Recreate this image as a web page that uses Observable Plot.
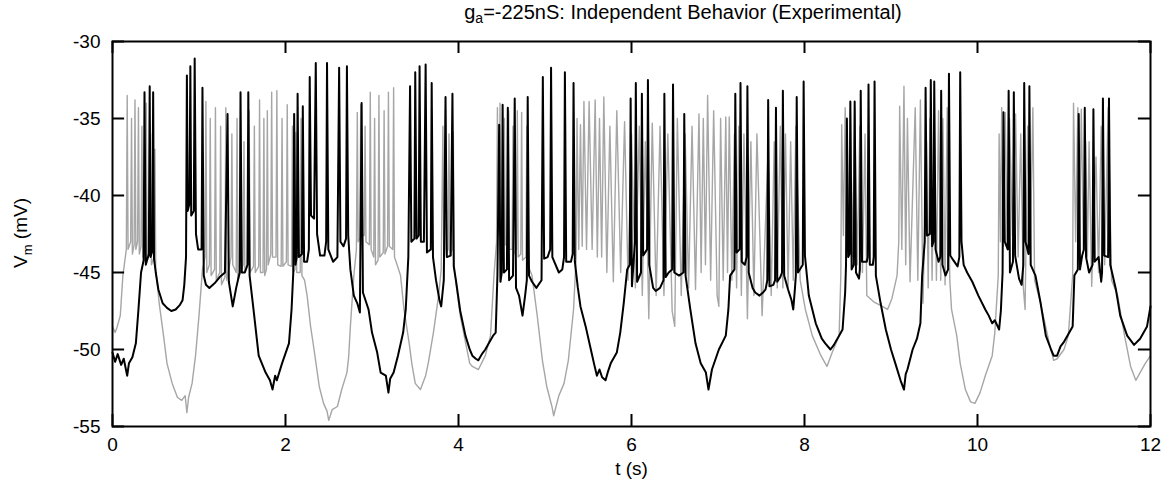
<!DOCTYPE html>
<html><head><meta charset="utf-8">
<script src="https://cdn.jsdelivr.net/npm/d3@7"></script>
<script src="https://cdn.jsdelivr.net/npm/@observablehq/plot@0.6"></script>
<style>
body{margin:0;background:#fff;font-family:"Liberation Sans",Arial,Helvetica,sans-serif;}
#wrap{width:1165px;}
#title{height:30px;margin-left:380px;width:606px;text-align:center;font-size:20px;line-height:25px;color:#000;white-space:nowrap;}
#title sub{font-size:14px;vertical-align:-4px;line-height:0;}
</style></head>
<body><div id="wrap"><div id="title">g<sub>a</sub>=-225nS: Independent Behavior (Experimental)</div><div id="chart"></div></div>
<script>
const xTicks = [0, 2, 4, 6, 8, 10, 12];
const yTicks = [-55, -50, -45, -40, -35, -30];

// cell 1 (black trace): [t (s), Vm (mV)]
const cellBlack = [
[0.00,-50.2],[0.03,-50.8],[0.06,-50.3],[0.10,-51.0],[0.13,-50.6],[0.17,-51.7],[0.19,-50.9],[0.23,-50.5],[0.27,-49.6],[0.30,-47.4],[0.33,-45.0],[0.36,-44.2],
[0.37,-33.3],[0.385,-44.5],[0.42,-43.8],[0.43,-32.9],[0.44,-44.0],[0.46,-43.6],[0.47,-33.3],[0.48,-44.1],[0.50,-45.0],[0.53,-46.1],[0.58,-47.0],[0.63,-47.3],[0.68,-47.5],[0.73,-47.4],[0.78,-47.1],[0.81,-46.8],[0.83,-45.8],[0.85,-44.0],
[0.86,-32.2],[0.87,-41.0],[0.89,-40.5],[0.90,-31.6],[0.91,-41.3],[0.94,-41.0],[0.95,-31.1],[0.965,-42.5],[0.99,-43.5],[1.03,-43.5],[1.04,-33.0],[1.055,-45.2],[1.08,-45.8],[1.12,-46.0],[1.18,-45.7],[1.24,-45.3],[1.30,-45.0],
[1.33,-34.7],[1.345,-45.6],[1.39,-47.2],[1.43,-46.0],[1.47,-45.0],[1.48,-33.3],[1.495,-45.0],[1.53,-45.0],[1.56,-44.5],[1.57,-33.3],[1.585,-45.2],[1.63,-47.4],[1.69,-50.4],[1.77,-51.5],[1.82,-52.0],[1.85,-52.6],[1.88,-51.7],[1.90,-52.0],[1.96,-50.9],[2.04,-49.6],[2.07,-47.4],[2.09,-45.0],
[2.10,-34.7],[2.115,-44.5],[2.13,-44.0],[2.14,-33.4],[2.155,-44.0],[2.19,-43.8],[2.20,-34.2],[2.215,-44.3],[2.25,-44.3],[2.27,-43.5],[2.28,-32.3],[2.295,-41.3],[2.33,-41.5],[2.35,-31.4],[2.365,-42.5],[2.40,-43.9],[2.45,-43.9],[2.47,-43.0],[2.48,-31.4],[2.495,-43.5],[2.55,-44.3],[2.60,-44.0],[2.62,-31.7],[2.635,-43.0],[2.67,-43.3],[2.70,-42.8],[2.71,-31.6],
[2.725,-42.6],[2.75,-44.8],[2.79,-46.5],[2.83,-47.0],[2.86,-47.6],[2.88,-34.0],[2.895,-46.3],[2.96,-47.4],[3.00,-48.9],[3.06,-50.2],[3.10,-51.5],[3.16,-51.7],[3.19,-52.8],[3.21,-51.9],[3.25,-51.5],[3.30,-50.4],[3.36,-48.9],[3.39,-47.4],[3.42,-44.0],
[3.44,-32.9],[3.455,-43.0],[3.49,-42.8],[3.50,-32.0],[3.515,-42.8],[3.54,-42.6],[3.55,-31.6],[3.565,-43.0],[3.60,-43.0],[3.62,-31.5],[3.635,-43.7],[3.68,-43.5],[3.69,-32.7],[3.705,-44.0],[3.74,-45.5],[3.78,-46.8],[3.80,-47.2],[3.83,-45.5],[3.85,-33.6],[3.865,-44.0],[3.91,-43.9],[3.93,-33.4],[3.945,-44.6],[3.97,-45.5],[4.02,-47.5],[4.08,-49.1],[4.13,-50.0],[4.16,-50.4],[4.20,-50.6],[4.23,-50.7],[4.27,-50.3],[4.31,-50.0],[4.36,-49.5],[4.40,-49.1],[4.43,-48.9],[4.45,-45.2],
[4.47,-35.4],[4.485,-45.6],[4.50,-45.0],[4.51,-34.1],[4.525,-45.0],[4.56,-44.8],[4.57,-34.3],[4.585,-45.5],[4.63,-45.2],[4.65,-33.7],[4.665,-46.0],[4.70,-46.5],[4.74,-47.8],[4.77,-46.5],[4.79,-45.5],[4.80,-33.6],[4.815,-45.2],[4.85,-45.6],[4.90,-46.0],[4.96,-45.5],[4.975,-32.3],[4.99,-44.1],[5.03,-44.0],[5.06,-43.5],[5.07,-31.7],[5.085,-44.0],[5.16,-45.0],[5.20,-44.8],[5.22,-44.0],[5.23,-32.0],[5.245,-44.3],[5.30,-44.3],[5.32,-43.8],[5.33,-32.7],[5.345,-44.3],[5.38,-46.0],[5.41,-47.2],[5.47,-48.5],[5.53,-50.0],[5.57,-51.0],[5.60,-51.7],[5.63,-51.3],[5.66,-51.8],[5.70,-52.0],[5.73,-51.4],[5.76,-50.9],[5.83,-50.2],[5.87,-48.9],[5.91,-47.0],[5.95,-44.8],[5.98,-44.5],
[5.99,-33.7],[6.005,-45.9],[6.04,-43.0],[6.05,-32.7],[6.065,-45.6],[6.11,-45.0],[6.12,-33.4],[6.135,-43.9],[6.18,-43.5],[6.19,-32.5],[6.205,-44.5],[6.25,-46.0],[6.28,-46.2],[6.33,-46.0],[6.37,-45.5],[6.38,-33.4],[6.395,-45.3],[6.43,-45.0],[6.47,-44.8],[6.48,-32.8],[6.495,-45.0],[6.55,-45.2],[6.60,-45.0],[6.61,-34.7],[6.625,-45.2],[6.68,-47.4],[6.74,-49.6],[6.80,-50.9],[6.86,-51.5],[6.89,-52.6],[6.93,-51.3],[7.01,-50.0],[7.09,-49.1],[7.12,-47.4],[7.14,-45.2],[7.19,-44.8],
[7.20,-33.4],[7.215,-43.7],[7.25,-43.5],[7.26,-32.7],[7.275,-44.3],[7.31,-44.5],[7.33,-44.0],[7.34,-32.9],[7.355,-45.0],[7.40,-46.0],[7.43,-46.3],[7.48,-46.5],[7.52,-46.3],[7.55,-46.1],[7.57,-45.5],[7.58,-33.8],[7.595,-45.9],[7.64,-45.8],[7.66,-45.5],[7.67,-34.3],[7.685,-45.6],[7.72,-45.3],[7.74,-45.0],[7.75,-33.2],[7.765,-45.2],[7.81,-46.1],[7.85,-46.8],[7.87,-47.4],[7.89,-46.0],[7.90,-45.2],[7.91,-33.6],[7.925,-45.0],[7.98,-44.5],[7.99,-32.6],[8.005,-43.9],[8.05,-46.5],[8.13,-48.3],[8.20,-49.3],[8.24,-49.6],[8.30,-50.0],[8.34,-49.7],[8.40,-49.1],[8.44,-48.7],[8.47,-46.3],[8.48,-44.5],
[8.49,-35.0],[8.505,-44.0],[8.52,-43.8],[8.53,-33.9],[8.545,-44.8],[8.57,-44.5],[8.58,-33.9],[8.595,-45.0],[8.63,-45.4],[8.64,-44.8],[8.65,-33.2],[8.665,-44.3],[8.72,-44.3],[8.73,-44.0],[8.74,-32.8],[8.755,-44.5],[8.79,-44.5],[8.80,-44.0],[8.81,-32.6],[8.825,-45.2],[8.88,-47.0],[8.94,-48.7],[9.00,-50.0],[9.05,-50.9],[9.11,-52.0],[9.15,-52.6],[9.17,-51.6],[9.19,-51.3],[9.25,-50.0],[9.30,-49.3],[9.34,-48.3],[9.36,-45.2],[9.39,-43.0],
[9.40,-33.0],[9.415,-42.6],[9.45,-42.5],[9.46,-32.5],[9.475,-43.3],[9.49,-43.0],[9.50,-32.6],[9.515,-43.5],[9.55,-44.3],[9.57,-44.0],[9.58,-33.2],[9.595,-44.5],[9.63,-45.2],[9.66,-44.8],[9.67,-32.1],[9.685,-43.9],[9.72,-44.2],[9.77,-44.6],[9.79,-44.0],[9.80,-32.0],[9.815,-43.0],[9.84,-44.5],[9.88,-45.0],[9.94,-45.6],[10.01,-46.5],[10.09,-47.4],[10.13,-47.8],[10.17,-48.3],[10.20,-48.1],[10.25,-48.7],[10.27,-47.5],[10.29,-45.0],
[10.30,-34.6],[10.315,-43.0],[10.35,-43.5],[10.36,-33.2],[10.375,-45.0],[10.41,-44.3],[10.42,-33.3],[10.435,-43.9],[10.48,-45.4],[10.51,-45.8],[10.53,-44.5],[10.54,-32.7],[10.555,-43.0],[10.59,-43.8],[10.60,-32.9],[10.615,-44.5],[10.67,-45.2],[10.73,-47.0],[10.79,-49.1],[10.85,-50.0],[10.88,-50.4],[10.92,-50.4],[10.96,-49.8],[11.00,-49.5],[11.04,-49.1],[11.10,-48.5],[11.12,-45.2],[11.16,-44.8],
[11.17,-34.7],[11.185,-44.8],[11.21,-43.9],[11.23,-43.5],[11.24,-34.3],[11.255,-44.0],[11.29,-45.0],[11.33,-44.5],[11.34,-34.4],[11.355,-44.3],[11.40,-44.0],[11.43,-45.6],[11.44,-45.0],[11.45,-33.7],[11.465,-43.9],[11.51,-44.0],[11.52,-33.7],[11.535,-44.5],[11.60,-46.1],[11.65,-47.8],[11.73,-49.1],[11.81,-49.7],[11.88,-49.3],[11.96,-48.5],[12.00,-47.2]
];

// cell 2 (gray trace): [t (s), Vm (mV)]
const cellGray = [
[0.00,-48.5],[0.03,-48.9],[0.05,-48.6],[0.09,-47.8],[0.12,-45.2],[0.16,-43.5],
[0.17,-33.5],[0.18,-43.5],[0.21,-43.0],[0.22,-35.0],[0.23,-43.8],[0.25,-43.2],[0.26,-33.8],[0.27,-43.5],[0.29,-43.0],[0.30,-34.3],[0.31,-43.8],[0.33,-43.3],[0.34,-35.5],[0.35,-44.0],[0.38,-43.5],[0.39,-34.0],[0.40,-44.2],[0.43,-43.8],[0.44,-36.0],[0.45,-44.5],[0.48,-44.0],[0.49,-37.0],[0.50,-44.8],[0.54,-47.0],[0.59,-49.1],[0.63,-50.9],[0.69,-52.2],[0.75,-53.1],[0.80,-53.3],[0.84,-53.0],[0.86,-54.1],[0.88,-53.1],[0.92,-52.2],[0.96,-50.4],[1.00,-47.8],[1.04,-44.8],[1.07,-44.0],
[1.08,-33.9],[1.09,-45.0],[1.12,-44.5],[1.13,-35.0],[1.14,-45.2],[1.18,-44.8],[1.19,-34.3],[1.20,-45.5],[1.24,-45.0],[1.25,-35.5],[1.26,-45.8],[1.30,-45.3],[1.31,-34.3],[1.32,-45.5],[1.37,-44.0],[1.38,-36.0],[1.39,-44.5],[1.43,-45.0],[1.44,-35.0],[1.45,-45.5],[1.51,-44.5],[1.52,-36.5],[1.53,-45.0],[1.57,-44.5],[1.58,-34.5],[1.59,-45.0],[1.63,-44.6],[1.64,-35.5],[1.65,-45.0],[1.69,-44.6],[1.70,-33.8],[1.71,-45.0],[1.74,-45.0],[1.75,-35.0],[1.76,-45.2],[1.78,-44.8],[1.79,-34.5],[1.80,-44.5],[1.83,-43.8],[1.84,-33.3],[1.85,-44.0],[1.89,-44.0],[1.90,-33.2],[1.91,-44.5],[1.95,-44.6],[1.96,-35.0],[1.97,-44.6],[2.01,-44.3],[2.02,-34.1],[2.03,-44.5],[2.07,-44.6],[2.08,-35.5],[2.09,-45.0],[2.11,-44.8],[2.12,-35.9],[2.13,-45.0],[2.17,-45.0],[2.18,-35.0],[2.19,-45.2],
[2.22,-45.5],[2.25,-46.5],[2.29,-48.5],[2.33,-50.0],[2.39,-52.4],[2.44,-53.5],[2.48,-54.0],[2.50,-54.6],[2.54,-53.9],[2.60,-53.7],[2.65,-52.6],[2.71,-51.5],[2.73,-50.5],[2.75,-48.5],[2.79,-45.2],[2.82,-43.5],
[2.83,-34.6],[2.84,-43.0],[2.86,-42.8],[2.87,-34.1],[2.88,-42.6],[2.91,-42.6],[2.92,-35.5],[2.93,-43.0],[2.97,-43.2],[2.98,-33.3],[2.99,-43.5],[3.02,-44.0],[3.03,-35.0],[3.04,-44.5],[3.07,-44.2],[3.08,-33.5],[3.09,-44.0],[3.13,-43.7],[3.14,-34.5],[3.15,-43.8],[3.18,-43.3],[3.19,-33.3],[3.20,-43.3],[3.24,-43.5],[3.25,-33.0],[3.26,-44.0],
[3.29,-44.5],[3.33,-45.2],[3.37,-47.4],[3.43,-49.6],[3.46,-50.9],[3.50,-52.2],[3.56,-52.6],[3.62,-51.7],[3.65,-50.9],[3.71,-48.9],[3.77,-46.5],[3.80,-44.8],
[3.82,-35.5],[3.83,-43.8],[3.84,-43.5],[3.85,-34.5],[3.86,-43.8],[3.88,-43.5],[3.89,-36.0],[3.90,-43.8],[3.93,-43.5],[3.94,-35.9],[3.95,-44.5],
[3.96,-45.2],[4.02,-47.8],[4.08,-49.5],[4.13,-50.9],[4.16,-51.1],[4.23,-51.3],[4.31,-50.4],[4.37,-49.1],[4.41,-45.2],[4.44,-43.0],
[4.45,-34.3],[4.46,-42.5],[4.47,-42.3],[4.48,-34.0],[4.49,-42.8],[4.52,-42.8],[4.53,-35.0],[4.54,-43.2],[4.57,-43.2],[4.58,-34.5],[4.59,-43.5],[4.62,-43.5],[4.63,-35.5],[4.64,-43.8],[4.67,-43.5],[4.68,-34.5],[4.69,-44.0],[4.72,-43.8],[4.73,-34.6],[4.74,-44.2],[4.78,-44.0],[4.79,-35.5],[4.80,-44.5],
[4.85,-45.2],[4.91,-47.8],[4.97,-50.7],[5.02,-52.4],[5.08,-53.7],[5.10,-54.3],[5.16,-53.0],[5.22,-52.2],[5.27,-50.7],[5.33,-47.4],[5.36,-44.0],
[5.37,-35.0],[5.39,-43.5],[5.41,-35.4],[5.43,-43.3],[5.45,-33.9],[5.48,-43.5],[5.51,-33.9],[5.545,-43.5],[5.58,-33.8],[5.605,-44.0],[5.63,-35.0],[5.655,-44.0],[5.68,-33.6],[5.715,-45.0],[5.75,-35.5],[5.79,-45.6],[5.83,-34.5],[5.875,-45.0],[5.92,-35.2],[5.96,-45.5],[6.00,-36.0],[6.045,-46.0],[6.09,-35.5],[6.125,-46.5],[6.16,-36.5],[6.20,-48.0],[6.24,-35.3],[6.285,-46.5],[6.33,-35.5],[6.375,-46.5],[6.42,-36.0],[6.47,-47.5],[6.50,-48.5],[6.53,-35.0],[6.575,-46.5],[6.62,-36.0],[6.66,-46.0],[6.70,-35.5],[6.74,-46.1],[6.78,-34.7],[6.805,-45.0],[6.83,-35.0],[6.855,-44.5],[6.88,-33.5],[6.915,-45.5],[6.95,-34.5],[6.99,-46.5],[7.01,-47.2],[7.03,-35.0],[7.06,-45.5],[7.09,-34.9],[7.11,-45.0],[7.13,-34.9],[7.16,-45.5],[7.19,-36.0],[7.215,-46.0],[7.24,-35.5],[7.27,-46.5],[7.30,-36.0],[7.34,-48.0],[7.38,-36.5],[7.415,-46.5],[7.45,-36.0],[7.51,-47.8],[7.58,-37.0],[7.615,-46.5],[7.65,-36.5],[7.685,-46.0],[7.72,-35.5],[7.75,-46.0],[7.78,-36.0],[7.81,-46.0],[7.84,-36.5],[7.87,-45.5],[7.90,-35.5],
[7.95,-45.5],[8.01,-47.4],[8.09,-49.1],[8.19,-50.4],[8.24,-50.9],[8.26,-51.1],[8.32,-50.2],[8.40,-49.1],[8.42,-45.2],
[8.43,-35.4],[8.45,-42.6],[8.47,-34.3],[8.50,-43.3],[8.53,-34.5],[8.555,-44.0],[8.58,-34.3],[8.61,-44.5],[8.64,-35.5],[8.67,-45.0],[8.70,-36.0],
[8.72,-46.5],[8.80,-46.9],[8.90,-47.2],[8.96,-47.4],[9.01,-46.7],[9.07,-45.2],[9.09,-43.0],
[9.10,-34.2],[9.125,-43.5],[9.15,-32.9],[9.17,-44.5],[9.19,-35.0],[9.22,-45.6],[9.28,-34.3],[9.31,-45.5],[9.34,-33.8],[9.37,-47.0],[9.41,-36.5],[9.43,-46.0],[9.45,-35.0],[9.475,-45.5],[9.50,-35.5],[9.525,-45.5],[9.55,-34.5],[9.575,-45.5],[9.60,-35.0],[9.625,-45.8],[9.65,-34.3],
[9.68,-45.5],[9.70,-47.4],[9.76,-49.1],[9.80,-50.9],[9.86,-52.6],[9.92,-53.4],[9.97,-53.5],[10.03,-52.8],[10.09,-51.7],[10.17,-50.4],[10.20,-48.9],[10.24,-45.2],
[10.25,-36.0],[10.265,-43.0],[10.28,-34.3],[10.30,-43.3],[10.32,-34.6],[10.345,-43.5],[10.37,-35.0],[10.405,-42.6],[10.44,-34.7],[10.47,-44.0],[10.50,-36.0],[10.53,-46.0],[10.55,-47.4],[10.58,-35.5],[10.61,-43.5],[10.64,-34.3],
[10.66,-45.5],[10.73,-47.0],[10.83,-49.6],[10.88,-50.7],[10.92,-50.6],[11.00,-50.0],[11.05,-49.1],[11.10,-45.2],
[11.11,-34.0],[11.135,-43.0],[11.16,-34.3],[11.18,-42.2],[11.20,-34.4],[11.225,-43.5],[11.25,-36.5],[11.27,-44.0],[11.29,-36.5],[11.32,-45.9],[11.37,-37.5],[11.40,-45.0],[11.43,-35.5],[11.47,-44.5],[11.51,-34.3],
[11.55,-45.5],[11.62,-46.5],[11.70,-49.1],[11.77,-51.1],[11.83,-52.0],[11.88,-51.5],[11.94,-50.9],[12.00,-50.4]
];

const toRows = arr => arr.map(([t, v]) => ({t, v}));
const blackRows = toRows(cellBlack);
const grayRows = toRows(cellGray);

const xTickLen = 0.78;  // mV (about 12 px)
const yTickLen = 0.14;  // s  (about 12 px)
const font = '"Liberation Sans", Arial, Helvetica, sans-serif';

const svg = Plot.plot({
  width: 1165, height: 455,
  marginTop: 11, marginBottom: 59, marginLeft: 112, marginRight: 15,
  x: {domain: [0, 12]},
  y: {domain: [-55, -30]},
  style: {fontFamily: font, fontSize: "19px", color: "#000", background: "#fff", overflow: "visible"},
  marks: [
    Plot.line(grayRows, {x: "t", y: "v", stroke: "#a6a6a6", strokeWidth: 1.4}),
    Plot.line(blackRows, {x: "t", y: "v", stroke: "#000", strokeWidth: 2}),
    Plot.frame({stroke: "#000", strokeWidth: 2}),
    Plot.ruleX(xTicks, {x: d => d, y1: -55, y2: -55 + xTickLen, stroke: "#000", strokeWidth: 2}),
    Plot.ruleX(xTicks, {x: d => d, y1: -30, y2: -30 - xTickLen, stroke: "#000", strokeWidth: 2}),
    Plot.ruleY(yTicks, {y: d => d, x1: 0, x2: yTickLen, stroke: "#000", strokeWidth: 2}),
    Plot.ruleY(yTicks, {y: d => d, x1: 12, x2: 12 - yTickLen, stroke: "#000", strokeWidth: 2}),
    Plot.axisX(xTicks, {tickSize: 0, tickPadding: 11, tickFormat: d => String(d), label: null, fontSize: 19}),
    Plot.axisY(yTicks, {tickSize: 0, tickPadding: 12, tickFormat: d => String(d), label: null, fontSize: 19}),
    Plot.text(["t (s)"], {frameAnchor: "bottom", dy: 48, fontSize: 19})
  ]
});
document.getElementById("chart").appendChild(svg);

const yl = d3.select(svg).append("text")
  .attr("transform", "translate(27,203) rotate(-90)")
  .attr("text-anchor", "middle")
  .attr("font-family", font)
  .attr("font-size", 19)
  .attr("fill", "#000");
yl.append("tspan").text("V");
yl.append("tspan").attr("font-size", 13).attr("dy", 5).text("m");
yl.append("tspan").attr("dy", -5).text(" (mV)");
</script>
</body></html>
